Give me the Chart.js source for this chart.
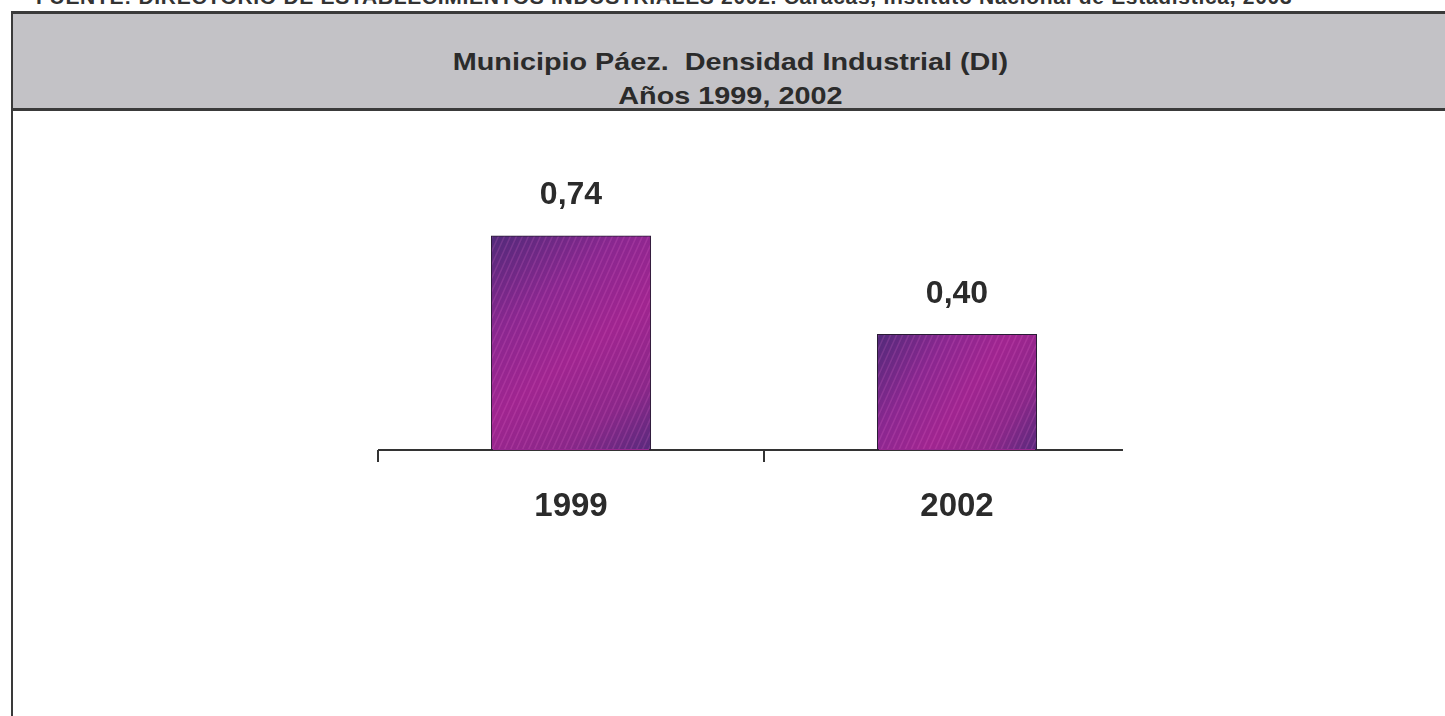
<!DOCTYPE html>
<html>
<head>
<meta charset="utf-8">
<script src="https://cdn.jsdelivr.net/npm/chart.js@4"></script>
<style>
    html, body { margin: 0; padding: 0; background: #fff; overflow: hidden; }
    body { width: 1445px; height: 716px; position: relative; font-family: "Liberation Sans", Arial, sans-serif; }
    #src {
        position: absolute; left: 36px; top: -15px; white-space: nowrap;
        font-size: 21px; font-weight: bold; color: #333; letter-spacing: 0.7px;
    }
    #frame {
        position: absolute; left: 11px; top: 11px; width: 1450px; height: 720px;
        border-left: 2px solid #3a3a3a; border-top: 3px solid #3a3a3a;
    }
    #head {
        height: 94px; background: #c3c2c6; border-bottom: 3px solid #3a3a3a;
        width: 1434px; text-align: center; color: #2b2b2b;
        font-size: 24px; font-weight: bold; line-height: 34px;
    }
    #head .l1 { padding-top: 31px; }
    #head span { display: inline-block; transform: scaleX(1.2); transform-origin: center; }
    #chart { position: absolute; left: 0; top: 0; }
</style>
</head>
<body>
<div id="src">FUENTE: DIRECTORIO DE ESTABLECIMIENTOS INDUSTRIALES 2002. Caracas, Instituto Nacional de Estadística, 2003</div>
<div id="frame">
    <div id="head">
        <div class="l1"><span>Municipio Páez.&nbsp; Densidad Industrial (DI)</span></div>
        <div><span>Años 1999, 2002</span></div>
    </div>
</div>
<canvas id="chart" width="1445" height="716"></canvas>
<script>
const years = ['1999', '2002'];
const densidad = [0.74, 0.40];

const fmt = v => v.toFixed(2).replace('.', ',');

// baseline, gradient + diagonal hatch inside bars, value labels
const barExtras = {
    id: 'barExtras',
    beforeDatasetsDraw(chart) {
        const xs = chart.scales.x;
        const p0 = xs.getPixelForValue(0), p1 = xs.getPixelForValue(1);
        const c = chart.ctx;
        c.save();
        c.strokeStyle = '#333';
        c.lineWidth = 2;
        c.beginPath();
        c.moveTo(xs.left, xs.top);
        c.lineTo(p1 + 0.43 * (p1 - p0), xs.top);
        c.stroke();
        c.restore();
    },
    afterDatasetsDraw(chart) {
        const c = chart.ctx;
        const meta = chart.getDatasetMeta(0);
        meta.data.forEach((bar, i) => {
            const x0 = bar.x - bar.width / 2;
            const w = bar.width, h = bar.base - bar.y;
            c.save();
            c.beginPath();
            c.rect(x0 + 1, bar.y + 1, w - 2, h - 2);
            c.clip();

            const g = c.createLinearGradient(x0, bar.y, x0 + w, bar.base);
            g.addColorStop(0, '#502a79');
            g.addColorStop(0.3, '#8a2790');
            g.addColorStop(0.55, '#a02590');
            g.addColorStop(0.8, '#8a2789');
            g.addColorStop(1, '#572a7c');
            c.fillStyle = g;
            c.fillRect(x0, bar.y, w, h);

            c.strokeStyle = 'rgba(255,130,225,0.16)';
            c.lineWidth = 1.5;
            for (let k = -h; k < w + h; k += 6) {
                c.beginPath();
                c.moveTo(x0 + k, bar.base);
                c.lineTo(x0 + k + h * 0.45, bar.y);
                c.stroke();
            }
            c.restore();

            c.save();
            c.font = 'bold 32px "Liberation Sans", Arial, sans-serif';
            c.fillStyle = '#2b2b2b';
            c.textAlign = 'center';
            c.textBaseline = 'middle';
            c.fillText(fmt(densidad[i]), bar.x, bar.y - 40);
            c.restore();
        });
    }
};

new Chart(document.getElementById('chart'), {
    type: 'bar',
    data: {
        labels: years,
        datasets: [{
            data: densidad,
            backgroundColor: '#962690',
            borderColor: '#2a1c36',
            borderWidth: 2,
            barPercentage: 0.415,
            categoryPercentage: 1
        }]
    },
    options: {
        responsive: false,
        animation: false,
        layout: { padding: { left: 378, right: 295, top: 160, bottom: 196 } },
        plugins: {
            legend: { display: false },
            tooltip: { enabled: false }
        },
        scales: {
            y: { display: false, min: 0, max: 1 },
            x: {
                offset: true,
                border: { display: false },
                grid: {
                    offset: true,
                    drawOnChartArea: false,
                    tickLength: 12,
                    lineWidth: 2,
                    color: (ctx) => ctx.type === 'tick' ? '#333' : 'rgba(0,0,0,0)'
                },
                ticks: {
                    color: '#2b2b2b',
                    padding: 25,
                    font: { family: '"Liberation Sans", Arial, sans-serif', size: 33, weight: 'bold' }
                },
                afterFit: (scale) => { scale.height = 70; }
            }
        }
    },
    plugins: [barExtras]
});
</script>
</body>
</html>
